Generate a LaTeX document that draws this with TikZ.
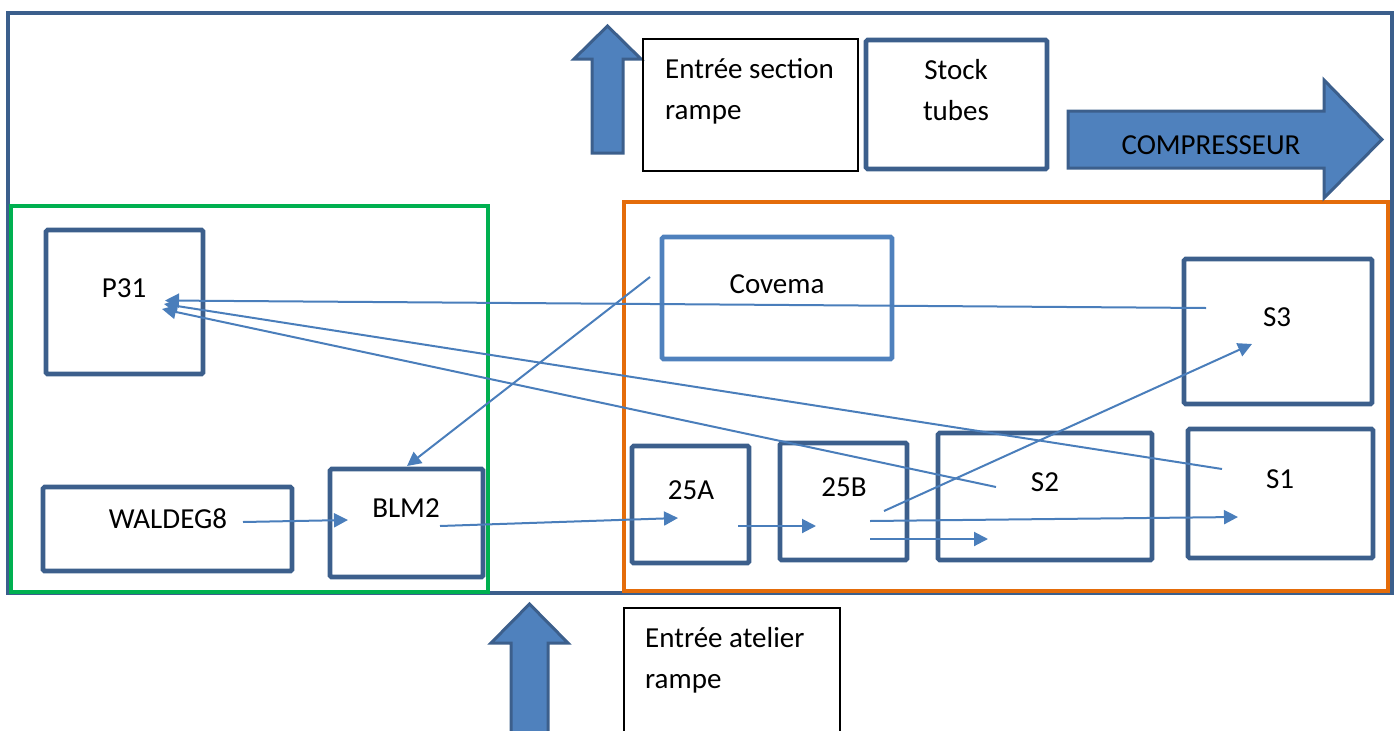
\documentclass[tikz,border=0pt]{standalone}
\usepackage{fontspec}
\setmainfont{Carlito}
\usetikzlibrary{arrows.meta,fit}
\definecolor{frameblue}{HTML}{3B5F8C}
\definecolor{boxblue}{HTML}{3C5F8C}
\definecolor{lineblue}{HTML}{4A7EBB}
\definecolor{fillblue}{HTML}{4F81BD}
\definecolor{zonegreen}{HTML}{00B050}
\definecolor{zoneorange}{HTML}{E46C0A}

\begin{document}
\begin{tikzpicture}[x=1pt,y=-1pt,
  machine/.style={draw=boxblue, line width=4.6pt, rounded corners=1.5pt, inner sep=0pt, fit={#1}},
  lightmachine/.style={draw=fillblue, line width=4.6pt, rounded corners=1.5pt, inner sep=0pt, fit={#1}},
  notebox/.style={draw=black, line width=1.5pt, inner sep=0pt, fit={#1}},
  zone/.style={line width=4.3pt, inner sep=0pt, fit={#1}},
  lbl/.style={font=\fontsize{29}{35}\selectfont, inner sep=0pt, anchor=base},
  lbll/.style={font=\fontsize{29}{35}\selectfont, inner sep=0pt, anchor=base west},
  flow/.style={draw=lineblue, line width=2pt, -{Triangle[length=14pt,width=14pt]}},
  blockarrow/.style={fill=fillblue, draw=boxblue, line width=3pt, line join=miter}
]
\useasboundingbox (0,0) rectangle (1398,731);
\clip (0,0) rectangle (1398,731);

% workshop outline and the two zones
\node[zone={(8,13) (1392,593)}, draw=frameblue] (hall) {};
\node[zone={(11,206) (488,592)}, draw=zonegreen] (greenzone) {};
\node[zone={(624,202) (1388,591)}, draw=zoneorange] (orangezone) {};

% entrance arrows
\draw[blockarrow] (592,153) -- (592,59) -- (574,59) -- (607.5,26) -- (641,59) -- (623,59) -- (623,153) -- cycle;
\draw[blockarrow] (511,760) -- (511,643) -- (491,643) -- (529.5,604) -- (568,643) -- (548,643) -- (548,760) -- cycle;
\draw[blockarrow] (1068,111) -- (1324,111) -- (1324,80) -- (1382,139.5) -- (1324,198) -- (1324,168) -- (1068,168) -- cycle;
\node[lbl] (compresseur) at (1211,154) {COMPRESSEUR};

% text boxes at the top and bottom
\node[notebox={(643,39) (858,171)}] (entreesection) {};
\node[lbll] (entreesectiona) at (665,78) {Entrée section};
\node[lbll] (entreesectionb) at (665,119) {rampe};
\node[machine={(866,40) (1047,169)}] (stock) {};
\node[lbl] (stocka) at (956,79) {Stock};
\node[lbl] (stockb) at (956,120) {tubes};
\node[notebox={(624,608) (840,770)}] (entreeatelier) {};
\node[lbll] (entreeateliera) at (645,647) {Entrée atelier};
\node[lbll] (entreeatelierb) at (645,688) {rampe};

% machines
\node[machine={(46,230) (203,374)}] (p31) {};
\node[lbl] (p31t) at (124,297) {P31};
\node[machine={(43,487) (292,571)}] (waldeg) {};
\node[lbl] (waldegt) at (168,528) {WALDEG8};
\node[machine={(330,469) (483,577)}] (blm) {};
\node[lbl] (blmt) at (406,517) {BLM2};
\node[lightmachine={(662,237) (892,359)}] (covema) {};
\node[lbl] (covemat) at (777,293) {Covema};
\node[machine={(632,446) (749,563)}] (m25a) {};
\node[lbl] (m25at) at (691,499) {25A};
\node[machine={(780,443) (907,560)}] (m25b) {};
\node[lbl] (m25bt) at (844,496) {25B};
\node[machine={(938,433) (1152,560)}] (s2) {};
\node[lbl] (s2t) at (1045,491) {S2};
\node[machine={(1188,429) (1373,558)}] (s1) {};
\node[lbl] (s1t) at (1280,488) {S1};
\node[machine={(1184,259) (1372,404)}] (s3) {};
\node[lbl] (s3t) at (1277,326) {S3};

% connector ends
\coordinate (p31inA) at (165,300.5);
\coordinate (p31inB) at (164,304);
\coordinate (p31inC) at (162,309);
\coordinate (s3out) at (1206,308);
\coordinate (s1out) at (1222,469);
\coordinate (s2out) at (996,487);
\coordinate (covemaout) at (650,277);
\coordinate (blmtop) at (407,466);
\coordinate (waldegout) at (243,522);
\coordinate (blmin) at (348,520);
\coordinate (blmout) at (440,526);
\coordinate (m25ain) at (678,518);
\coordinate (m25aout) at (738,526);
\coordinate (m25bin) at (816,526);
\coordinate (m25boutA) at (884,511);
\coordinate (m25boutB) at (870,521);
\coordinate (m25boutC) at (870,539);
\coordinate (s3in) at (1252,344);
\coordinate (s1in) at (1238,517);
\coordinate (s2in) at (988,539);

% material flow
\draw[flow] (s3out) -- (p31inA);
\draw[flow] (s1out) -- (p31inB);
\draw[flow] (s2out) -- (p31inC);
\draw[flow] (covemaout) -- (blmtop);
\draw[flow] (waldegout) -- (blmin);
\draw[flow] (blmout) -- (m25ain);
\draw[flow] (m25aout) -- (m25bin);
\draw[flow] (m25boutA) -- (s3in);
\draw[flow] (m25boutB) -- (s1in);
\draw[flow] (m25boutC) -- (s2in);
\end{tikzpicture}
\end{document}
